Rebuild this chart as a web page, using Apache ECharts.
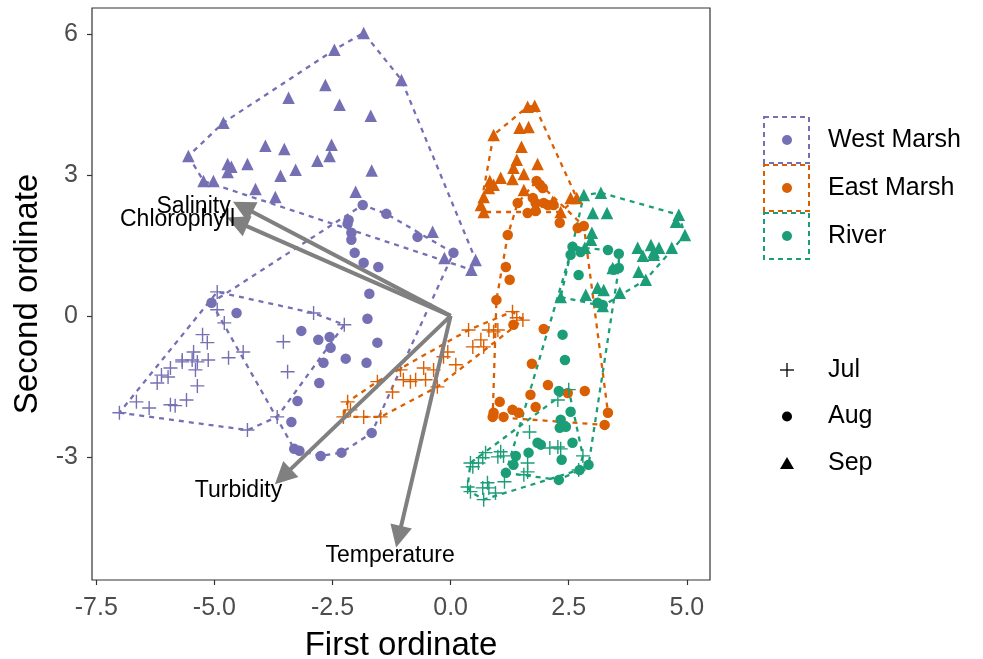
<!DOCTYPE html>
<html>
<head>
<meta charset="utf-8">
<script src="https://cdn.jsdelivr.net/npm/echarts@6/dist/echarts.min.js"></script>
<style>
  html, body { margin: 0; padding: 0; background: #fff; }
  #chart { width: 983px; height: 659px; }
</style>
</head>
<body>
<div id="chart"></div>
<script>
const sites = ['West Marsh', 'East Marsh', 'River'];
const months = ['Jul', 'Aug', 'Sep'];
const xTicks = [-7.5, -5, -2.5, 0, 2.5, 5];
const yTicks = [-3, 0, 3, 6];

// site scores, [first ordinate, second ordinate]
const westJul = [[-4.94,0.51],[-4.94,0.13],[-4.79,-0.15],[-5.25,-0.40],[-5.15,-0.57],[-5.44,-0.77],[-5.68,-0.94],[-5.47,-0.94],[-5.36,-0.98],[-5.13,-0.94],[-4.70,-0.89],[-4.39,-0.77],[-5.40,-1.15],[-5.68,-0.98],[-5.93,-1.11],[-5.98,-1.30],[-6.12,-1.26],[-6.21,-1.43],[-5.36,-1.49],[-6.65,-1.83],[-6.38,-1.96],[-7.01,-2.06],[-5.93,-1.89],[-5.83,-1.91],[-5.59,-1.79],[-4.30,-2.43],[-3.67,-2.15],[-3.54,-0.55],[-3.45,-1.19],[-2.90,0.06],[-2.25,-0.19]];
const westAug = [[-1.86,2.36],[-1.36,2.17],[-2.16,2.04],[-2.18,1.96],[-2.10,1.77],[-2.10,1.62],[-0.70,1.68],[0.06,1.34],[-2.03,1.34],[-1.84,1.13],[-1.53,1.04],[-1.72,0.47],[-1.76,-0.06],[-1.55,-0.57],[-3.16,-0.32],[-2.80,-0.51],[-2.56,-0.45],[-2.54,-0.68],[-2.22,-0.91],[-2.69,-1.00],[-1.78,-1.00],[-2.78,-1.43],[-3.24,-1.81],[-3.37,-2.26],[-1.67,-2.49],[-3.31,-2.83],[-3.20,-2.87],[-2.75,-2.98],[-2.31,-2.91],[-5.06,0.28],[-4.53,0.06]];
const westSep = [[-1.84,6.02],[-2.46,5.66],[-1.04,5.02],[-2.65,4.91],[-3.43,4.64],[-2.35,4.49],[-1.69,4.26],[-4.81,4.11],[-5.55,3.40],[-3.92,3.62],[-3.52,3.55],[-2.52,3.64],[-2.56,3.40],[-2.82,3.30],[-4.72,3.23],[-4.64,3.17],[-4.30,3.23],[-4.72,3.06],[-3.28,3.11],[-3.60,2.98],[-1.67,3.09],[-5.23,2.87],[-5.02,2.87],[-4.13,2.70],[-3.71,2.53],[-2.01,2.64],[-0.38,1.79],[-0.13,1.23],[0.53,1.19],[0.44,0.98]];
const eastJul = [[1.31,0.09],[1.53,-0.09],[1.40,-0.04],[1.00,-0.30],[0.81,-0.30],[0.91,-0.34],[0.38,-0.30],[0.64,-0.51],[0.70,-0.66],[0.47,-0.66],[-0.06,-0.77],[-0.15,-0.87],[0.11,-1.04],[-0.36,-1.15],[-0.57,-1.11],[-0.53,-1.36],[-0.74,-1.36],[-0.85,-1.40],[-0.28,-1.51],[-1.00,-1.36],[-1.06,-1.15],[-1.23,-1.62],[-1.55,-1.40],[-2.18,-1.83],[-2.12,-2.00],[-2.27,-2.15],[-1.84,-2.15],[-1.48,-2.15]];
const eastAug = [[1.82,2.87],[1.89,2.79],[1.95,2.72],[1.42,2.40],[1.74,2.51],[1.80,2.40],[1.97,2.40],[2.06,2.36],[2.18,2.36],[1.63,2.19],[1.80,2.23],[2.31,1.98],[2.69,1.87],[2.82,1.91],[1.21,1.72],[1.17,1.04],[1.25,0.77],[0.97,0.34],[1.33,-0.19],[1.97,-0.28],[1.72,-1.02],[2.06,-1.47],[1.69,-1.68],[1.80,-1.94],[2.48,-1.64],[2.84,-1.60],[1.04,-1.83],[0.91,-2.06],[1.12,-2.15],[1.31,-2.00],[1.44,-2.06],[3.33,-2.06],[3.26,-2.32],[0.89,-2.15]];
const eastSep = [[1.63,4.45],[1.78,4.47],[1.46,4.00],[1.65,4.02],[0.91,3.85],[1.50,3.60],[1.40,3.32],[1.84,3.23],[1.33,3.15],[1.55,3.02],[0.83,2.87],[1.06,2.94],[1.31,2.91],[0.81,2.72],[0.91,2.79],[1.55,2.68],[0.70,2.53],[0.64,2.36],[0.70,2.21],[2.33,2.21],[2.54,2.51],[2.67,2.51],[2.16,2.43]];
const riverJul = [[2.50,-1.57],[2.27,-1.79],[1.67,-2.47],[2.27,-2.79],[2.10,-2.81],[2.33,-2.83],[2.80,-2.98],[2.71,-3.28],[1.63,-3.13],[1.63,-3.32],[1.55,-3.38],[1.06,-2.89],[1.12,-2.98],[1.00,-3.00],[0.74,-2.91],[0.68,-3.02],[0.59,-3.13],[0.47,-3.21],[0.42,-3.13],[1.14,-3.53],[0.78,-3.55],[0.81,-3.66],[0.68,-3.66],[0.36,-3.64],[0.42,-3.74],[0.95,-3.77],[0.70,-3.91]];
const riverAug = [[2.58,1.47],[2.54,1.30],[2.75,1.36],[3.33,1.40],[3.56,1.32],[3.56,1.02],[3.45,0.98],[2.71,0.87],[3.11,0.28],[3.22,0.23],[2.37,-0.40],[2.42,-0.94],[2.29,-1.60],[2.54,-2.04],[2.33,-2.21],[2.44,-2.36],[2.31,-2.38],[2.58,-2.70],[1.91,-2.74],[1.84,-2.70],[1.65,-2.91],[2.35,-3.06],[1.38,-2.98],[1.33,-3.17],[1.17,-3.34],[2.92,-3.17],[2.73,-3.28],[2.29,-3.49]];
const riverSep = [[2.82,2.57],[3.18,2.62],[3.01,2.19],[3.31,2.19],[4.83,2.15],[4.77,2.00],[4.96,1.72],[2.99,1.77],[2.97,1.62],[2.84,1.45],[3.96,1.45],[4.24,1.51],[4.30,1.36],[4.41,1.45],[4.68,1.45],[4.07,1.28],[4.30,1.30],[3.43,1.02],[3.98,0.94],[4.13,0.77],[2.33,0.40],[2.86,0.45],[3.11,0.60],[3.24,0.55],[3.58,0.49],[3.22,0.21]];

// environmental vectors
const envNames = ['Salinity', 'Chlorophyll', 'Turbidity', 'Temperature'];
const envTips = [[-4.40,2.32],[-4.52,2.00],[-3.55,-3.42],[-1.10,-4.70]];
const envLabelPos = [[-5.44,2.32],[-5.78,2.04],[-4.49,-3.72],[-1.28,-5.11]];

const groups = [
  [westJul, westAug, westSep],
  [eastJul, eastAug, eastSep],
  [riverJul, riverAug, riverSep]
];
const colors = ['#7570B3', '#D95F02', '#1B9E77'];
const crossPath = 'path://M0,5.4H12V6.6H0Z M5.4,0H6.6V12H5.4Z';
const shapes = [crossPath, 'circle', 'triangle'];
const shapeSizes = [14, 10.5, 12.5];
const font = 'Liberation Sans, Arial, sans-serif';

// convex hull (monotone chain)
function hull(pts) {
  const p = pts.slice().sort((a, b) => a[0] - b[0] || a[1] - b[1]);
  const cross = (o, a, b) => (a[0] - o[0]) * (b[1] - o[1]) - (a[1] - o[1]) * (b[0] - o[0]);
  const lower = [];
  for (const q of p) {
    while (lower.length >= 2 && cross(lower[lower.length - 2], lower[lower.length - 1], q) <= 0) lower.pop();
    lower.push(q);
  }
  const upper = [];
  for (let i = p.length - 1; i >= 0; i--) {
    const q = p[i];
    while (upper.length >= 2 && cross(upper[upper.length - 2], upper[upper.length - 1], q) <= 0) upper.pop();
    upper.push(q);
  }
  upper.pop();
  lower.pop();
  const h = lower.concat(upper);
  h.push(h[0]);
  return h;
}

let series = [];
groups.forEach((g, s) => {
  g.forEach((pts, m) => {
    series.push({
      type: 'line',
      name: sites[s] + ' ' + months[m] + ' hull',
      data: hull(pts),
      showSymbol: false,
      silent: true,
      z: 1,
      lineStyle: { color: colors[s], width: 2.3, type: [5, 5] }
    });
    series.push({
      type: 'scatter',
      name: sites[s] + ' ' + months[m],
      data: pts,
      symbol: shapes[m],
      symbolSize: shapeSizes[m],
      z: 2,
      itemStyle: { color: colors[s], opacity: 1 }
    });
  });
});

series.push({
  type: 'lines',
  coordinateSystem: 'cartesian2d',
  z: 3,
  symbol: ['none', 'triangle'],
  symbolSize: [18, 22],
  lineStyle: { color: '#808080', width: 4, opacity: 1 },
  data: envTips.map(t => ({ coords: [[0, 0], t] }))
});

series.push({
  type: 'scatter',
  z: 4,
  symbolSize: 1,
  itemStyle: { color: 'rgba(0,0,0,0)' },
  label: {
    show: true,
    position: 'inside',
    color: '#000',
    opacity: 1,
    textBorderWidth: 0,
    fontSize: 23,
    fontFamily: font,
    formatter: p => envNames[p.dataIndex]
  },
  data: envLabelPos
});

// legend boxes drawn by hand
let graphics = [];
sites.forEach((name, i) => {
  const cy = 140 + 48 * i;
  graphics.push({
    type: 'rect', shape: { x: 764, y: cy - 23, width: 45, height: 46 },
    style: { fill: 'none', stroke: colors[i], lineWidth: 2, lineDash: [5, 4] }
  });
  graphics.push({ type: 'circle', shape: { cx: 787, cy: cy, r: 5 }, style: { fill: colors[i] } });
  graphics.push({
    type: 'text', x: 828, y: cy,
    style: { text: name, fill: '#000', font: '25px ' + font, verticalAlign: 'middle' }
  });
});
months.forEach((name, i) => {
  const cy = 370 + 46.5 * i;
  if (i === 0) {
    graphics.push({ type: 'line', shape: { x1: 780, y1: cy, x2: 794, y2: cy }, style: { stroke: '#000', lineWidth: 1.3 } });
    graphics.push({ type: 'line', shape: { x1: 787, y1: cy - 7, x2: 787, y2: cy + 7 }, style: { stroke: '#000', lineWidth: 1.3 } });
  } else if (i === 1) {
    graphics.push({ type: 'circle', shape: { cx: 787, cy: cy, r: 5 }, style: { fill: '#000' } });
  } else {
    graphics.push({ type: 'polygon', shape: { points: [[787, cy - 6], [794, cy + 6], [780, cy + 6]] }, style: { fill: '#000' } });
  }
  graphics.push({
    type: 'text', x: 828, y: cy,
    style: { text: name, fill: '#000', font: '25px ' + font, verticalAlign: 'middle' }
  });
});

const chart = echarts.init(document.getElementById('chart'));
chart.setOption({
  animation: false,
  backgroundColor: '#fff',
  textStyle: { fontFamily: font },
  grid: {
    left: 92, right: 273, top: 8, bottom: 79,
    outerBoundsMode: 'none', containLabel: false,
    show: true, borderColor: '#333', borderWidth: 1.2, backgroundColor: '#fff'
  },
  xAxis: {
    type: 'value', min: -7.59, max: 5.49,
    name: 'First ordinate', nameLocation: 'middle', nameGap: 49,
    nameTextStyle: { fontSize: 33, color: '#000', fontFamily: font },
    splitLine: { show: false },
    axisLine: { show: false, onZero: false },
    axisTick: { show: true, customValues: xTicks, length: 5, lineStyle: { color: '#333', width: 1.2 } },
    axisLabel: {
      customValues: xTicks, fontSize: 25, color: '#4D4D4D', margin: 16, fontFamily: font,
      formatter: v => v.toFixed(1)
    }
  },
  yAxis: {
    type: 'value', min: -5.62, max: 6.55,
    name: 'Second ordinate', nameLocation: 'middle', nameGap: 41,
    nameTextStyle: { fontSize: 33, color: '#000', fontFamily: font },
    splitLine: { show: false },
    axisLine: { show: false, onZero: false },
    axisTick: { show: true, customValues: yTicks, length: 5, lineStyle: { color: '#333', width: 1.2 } },
    axisLabel: {
      customValues: yTicks, fontSize: 25, color: '#4D4D4D', margin: 14, fontFamily: font,
      formatter: v => String(v)
    }
  },
  graphic: graphics,
  series: series
});
</script>
</body>
</html>
